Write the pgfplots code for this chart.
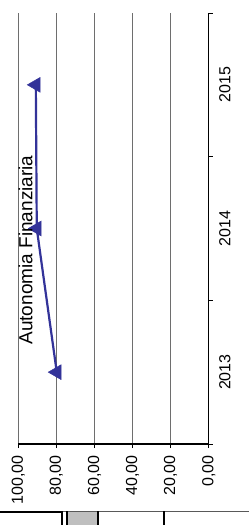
\documentclass[border=0pt]{standalone}
\usepackage{pgfplots}
\pgfplotsset{compat=1.18}
\usepackage{fontspec}
\setmainfont{Liberation Sans}
\definecolor{serie}{RGB}{51,51,153}
\definecolor{gridc}{RGB}{110,110,110}
\begin{document}
\begin{tikzpicture}
\path[use as bounding box] (0,0) rectangle (249pt,-525pt);
\begin{axis}[
  at={(18.3pt,-13pt)}, anchor=north west,
  scale only axis, width=190.4pt, height=431pt,
  x dir=reverse,
  xmin=0, xmax=100, ymin=0.5, ymax=3.5,
  axis x line*=bottom, axis y line*=right,
  axis line style={black, line width=1.3pt},
  xtick={0,20,...,100},
  xticklabels={{0,00},{20,00},{40,00},{60,00},{80,00},{100,00}},
  xticklabel style={rotate=90, anchor=east, font=\fontsize{16}{17}\selectfont},
  xticklabel shift=4pt,
  ytick={0.5,1.5,2.5,3.5}, yticklabels={},
  extra y ticks={1,2,3}, extra y tick labels={2013,2014,2015},
  extra y tick style={major tick style={draw=none}},
  yticklabel style={rotate=90, anchor=north, font=\fontsize{16}{17}\selectfont},
  yticklabel pos=right,
  yticklabel shift=3pt,
  xmajorgrids, grid style={gridc, line width=0.8pt},
  tick align=outside, major tick length=4pt,
  tick style={black, line width=0.8pt},
]
\addplot[serie, line width=2.2pt, mark=triangle*, mark size=8.5pt, mark options={rotate=90, solid, fill=serie, line width=0.5pt}]
  coordinates {(79.8,1) (90.3,2) (90.8,3)};
\end{axis}
\node[rotate=90, anchor=north, inner sep=0pt, font=\fontsize{19}{20}\selectfont] at (18.5pt,-250pt) {Autonomia Finanziaria};
\draw[gray!70!black, line width=1pt] (62pt,-511.5pt) -- (249pt,-511.5pt);
\draw[black, line width=2pt] (0pt,-512pt) -- (62pt,-512pt);
\fill[gray!50] (67pt,-512pt) rectangle (97pt,-525pt);
\draw[black, line width=2pt] (61.7pt,-511pt) -- (61.7pt,-525pt);
\draw[black, line width=2pt] (66.7pt,-511pt) -- (66.7pt,-525pt);
\draw[black, line width=2.5pt] (98pt,-511pt) -- (98pt,-525pt);
\draw[black, line width=2.5pt] (164pt,-511pt) -- (164pt,-525pt);
\end{tikzpicture}
\end{document}
